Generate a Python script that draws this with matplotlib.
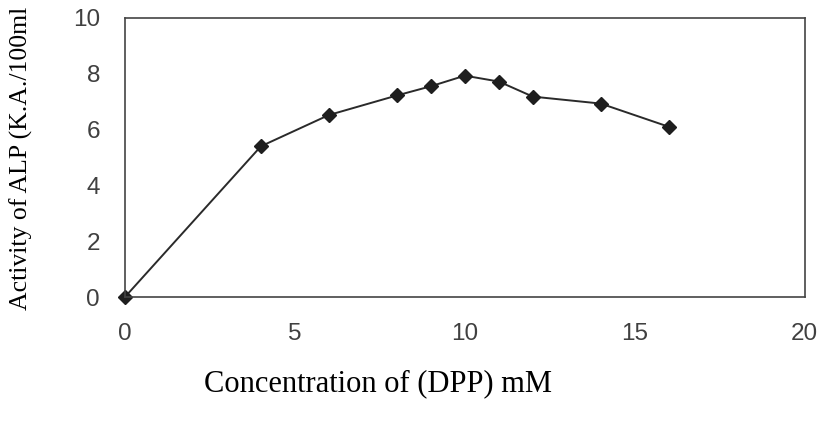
import matplotlib
matplotlib.use("Agg")
import matplotlib.pyplot as plt

# DPP concentration (mM) vs ALP activity (K.A./100ml)
conc = [0, 4, 6, 8, 9, 10, 11, 12, 14, 16]
activity = [0, 5.4, 6.52, 7.22, 7.55, 7.93, 7.72, 7.18, 6.93, 6.1]

x_ticks = [0, 5, 10, 15, 20]
y_ticks = [0, 2, 4, 6, 8, 10]

fig = plt.figure(figsize=(8.33, 4.21), dpi=100)
ax = fig.add_axes([0.150, 0.2945, 0.816, 0.663])

ax.plot(conc, activity, color="#2a2a2a", lw=1.4, marker="D", markersize=7.5,
        markerfacecolor="#1e1e1e", markeredgecolor="#1e1e1e", clip_on=False)

ax.set_xlim(0, 20)
ax.set_ylim(0, 10)
ax.set_xticks(x_ticks)
ax.set_yticks(y_ticks)
ax.tick_params(length=0, labelsize=17.5, labelcolor="#404040")
ax.tick_params(axis="x", pad=19)
ax.tick_params(axis="y", pad=18)
for lab in ax.get_xticklabels() + ax.get_yticklabels():
    lab.set_fontfamily("Liberation Sans")

for sp in ax.spines.values():
    sp.set_color("#444444")
    sp.set_linewidth(1.2)

fig.text(0.454, 0.088, "Concentration of (DPP) mM", ha="center", va="center",
         fontsize=22, family="Liberation Serif")
fig.text(0.026, 0.625, "Activity of ALP (K.A./100ml", ha="center", va="center",
         rotation=90, fontsize=18.5, family="Liberation Serif")

fig.savefig("out.png", dpi=100)
